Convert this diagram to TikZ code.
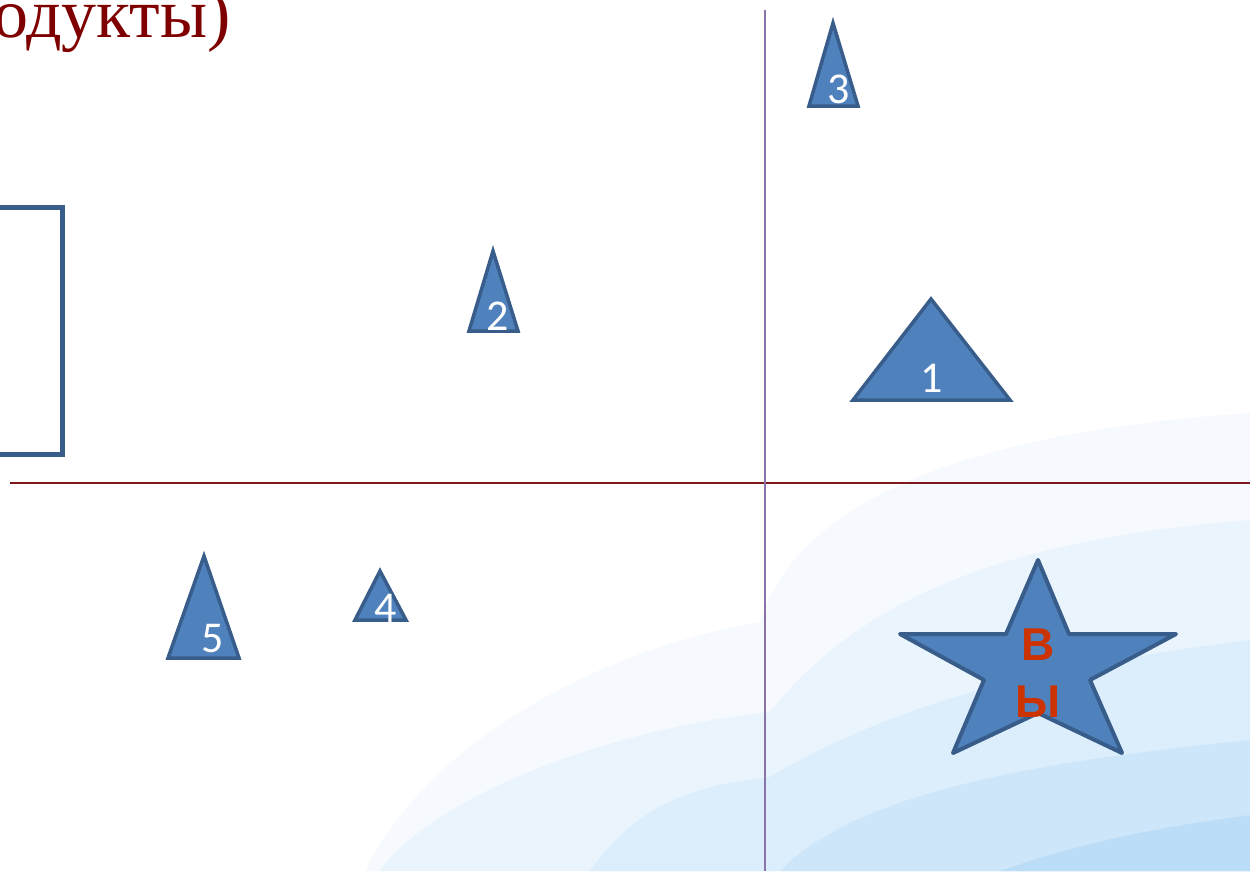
\documentclass[tikz,border=0pt]{standalone}
\usepackage{fontspec}
\newfontfamily\titlefont{Liberation Serif}
\newfontfamily\numfont{Carlito}
\newfontfamily\starfont{Liberation Sans}
\definecolor{triFill}{HTML}{4F81BD}
\definecolor{triLine}{HTML}{385D8A}
\definecolor{titleRed}{HTML}{7F0000}
\definecolor{hLine}{HTML}{7F1A1A}
\definecolor{vLine}{HTML}{8A72AA}
\definecolor{starText}{HTML}{CC3300}
\definecolor{bgA}{HTML}{F6F9FD}
\definecolor{bgB}{HTML}{EAF4FD}
\definecolor{bgC}{HTML}{DCEEFC}
\definecolor{bgD}{HTML}{CDE6FA}
\definecolor{bgE}{HTML}{BCDDF8}
\tikzset{
  tri/.style={fill=triFill, draw=triLine, line width=3.5pt, line join=miter},
  numlabel/.style={text=white, font=\numfont\fontsize{44}{50}\selectfont, inner sep=0pt, anchor=base},
  starshape/.style={fill=triFill, draw=triLine, line width=4pt, line join=round},
  starlabel/.style={text=starText, font=\starfont\bfseries\fontsize{46}{52}\selectfont, inner sep=0pt, anchor=base},
  framebox/.style={draw=triLine, line width=5pt, fill=white}
}
\begin{document}
\begin{tikzpicture}[x=1pt,y=-1pt]
\useasboundingbox (0,0) rectangle (1250,871);
\clip (0,0) rectangle (1250,871);
\fill[white] (0,0) rectangle (1250,871);
% background waves
\fill[bgA] (365,871) .. controls (430,740) and (600,650) .. (760,622)
  .. controls (780,560) and (850,440) .. (1250,413) -- (1250,871) -- cycle;
\fill[bgB] (380,871) .. controls (430,800) and (600,730) .. (770,712)
  .. controls (860,600) and (1000,540) .. (1250,520) -- (1250,871) -- cycle;
\fill[bgC] (590,871) .. controls (640,800) and (700,785) .. (770,777)
  .. controls (900,700) and (1050,665) .. (1250,640) -- (1250,871) -- cycle;
\fill[bgD] (780,871) .. controls (850,800) and (1000,765) .. (1250,740) -- (1250,871) -- cycle;
\fill[bgE] (1000,871) .. controls (1100,835) and (1200,822) .. (1250,815) -- (1250,871) -- cycle;
% axes
\coordinate (hL) at (10,483);
\coordinate (hR) at (1250,483);
\coordinate (vT) at (765,10);
\coordinate (vB) at (765,871);
\draw[hLine, line width=2pt] (hL) -- (hR);
\draw[vLine, line width=2pt] (vT) -- (vB);
% frame at left
\draw[framebox] (-20,207) rectangle (62,454);
% title
\node[anchor=base east, inner sep=0pt, text=titleRed, font=\titlefont\fontsize{70}{84}\selectfont] (title) at (231,37) {(продукты)};
% triangles
\draw[tri] (833,23) -- (858,106) -- (809,106) -- cycle;
\node[numlabel] (n3) at (839,103) {3};
\draw[tri] (493,251) -- (518,331) -- (469,331) -- cycle;
\node[numlabel] (n2) at (498,330) {2};
\draw[tri] (931,299) -- (1010,400) -- (853,400) -- cycle;
\node[numlabel] (n1) at (932,392) {1};
\draw[tri] (204,556) -- (239,658) -- (168,658) -- cycle;
\node[numlabel] (n5) at (213,652) {5};
\draw[tri] (380,571) -- (406,620) -- (355,620) -- cycle;
\node[numlabel] (n4) at (386,622) {4};
% star
\draw[starshape] (1038,560) -- (1069,634) -- (1176,634) -- (1090,680) -- (1122,753)
  -- (1038,713) -- (953,753) -- (984,680) -- (900,634) -- (1006,634) -- cycle;
\node[starlabel] (sv) at (1038,660) {В};
\node[starlabel] (sy) at (1038,717) {Ы};
\end{tikzpicture}
\end{document}
